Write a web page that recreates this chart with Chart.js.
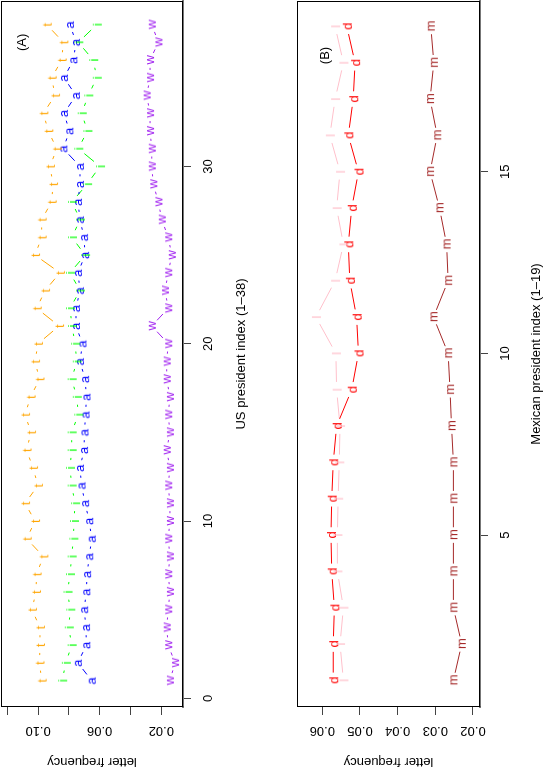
<!DOCTYPE html>
<html>
<head>
<meta charset="utf-8">
<script src="https://cdn.jsdelivr.net/npm/chart.js@4.4.1/dist/chart.umd.min.js"></script>
<style>
  html, body { margin: 0; background: #fff; overflow: hidden; }
  /* the figure is laid out landscape and turned a quarter turn, like the reference */
  #fig { position: absolute; left: 0; top: 0; width: 769px; height: 545px; background: #fff;
         transform-origin: 0 0; transform: translateY(769px) rotate(-90deg); }
  #fig canvas { position: absolute; left: 0; }
</style>
</head>
<body>
<div id="fig">
  <canvas id="chartA" width="769" height="290" style="top:0"></canvas>
  <canvas id="chartB" width="769" height="255" style="top:290px"></canvas>
</div>
<script>
const usIndex = [1,2,3,4,5,6,7,8,9,10,11,12,13,14,15,16,17,18,19,20,21,22,23,24,25,26,27,28,29,30,31,32,33,34,35,36,37,38];
const usT = [0.0977,0.0991,0.0988,0.0988,0.1040,0.1014,0.1010,0.0966,0.1074,0.1020,0.1085,0.1001,0.1033,0.1075,0.1046,0.1085,0.1049,0.0991,0.1020,0.1001,
  0.0864,0.1009,0.0955,0.0858,0.1020,0.0977,0.0977,0.0912,0.0903,0.0923,0.0879,0.0934,0.0966,0.0890,0.0912,0.0847,0.0836,0.0944];
const usA = [0.0652,0.0742,0.0687,0.0689,0.0701,0.0687,0.0682,0.0668,0.0652,0.0668,0.0695,0.0718,0.0728,0.0702,0.0699,0.0692,0.0686,0.0695,0.0728,0.0712,
  0.0754,0.0754,0.0728,0.0741,0.0695,0.0702,0.0728,0.0741,0.0728,0.0728,0.0836,0.0797,0.0832,0.0754,0.0832,0.0771,0.0754,0.0793];
const usI = [0.0844,0.0820,0.0782,0.0801,0.0791,0.0809,0.0793,0.0782,0.0771,0.0767,0.0760,0.0782,0.0793,0.0782,0.0782,0.0739,0.0749,0.0782,0.0749,0.0760,
  0.0780,0.0793,0.0728,0.0793,0.0695,0.0780,0.0728,0.0780,0.0682,0.0598,0.0739,0.0680,0.0717,0.0674,0.0619,0.0642,0.0739,0.0619];
const usW = [0.0144,0.0111,0.0155,0.0165,0.0155,0.0144,0.0155,0.0144,0.0155,0.0144,0.0144,0.0155,0.0144,0.0165,0.0144,0.0155,0.0144,0.0165,0.0165,0.0155,
  0.0262,0.0155,0.0176,0.0155,0.0132,0.0155,0.0197,0.0219,0.0252,0.0262,0.0262,0.0273,0.0273,0.0295,0.0273,0.0273,0.0219,0.0262];

const mxIndex = [1,2,3,4,5,6,7,8,9,10,11,12,13,14,15,16,17,18,19];
const mxD = [0.0571,0.0571,0.0568,0.0575,0.0577,0.0575,0.0571,0.0562,0.0522,0.0504,0.0509,0.0527,0.0531,0.0522,0.0504,0.0531,0.0518,0.0513,0.0535];
const mxL = [0.0544,0.0553,0.0544,0.0560,0.0560,0.0558,0.0555,0.0553,0.0562,0.0564,0.0617,0.0566,0.0544,0.0562,0.0553,0.0580,0.0566,0.0544,0.0566];
const mxM = [0.0252,0.0230,0.0252,0.0252,0.0252,0.0252,0.0252,0.0257,0.0261,0.0266,0.0305,0.0266,0.0270,0.0289,0.0314,0.0295,0.0314,0.0304,0.0312];

const usTicks = [0, 10, 20, 30];
const usFreqTicks = [0.02, 0.04, 0.06, 0.08, 0.10, 0.12];
const usFreqLabels = [0.02, 0.06, 0.10];
const mxTicks = [5, 10, 15];
const mxFreqTicks = [0.02, 0.03, 0.04, 0.05, 0.06];

const FONT = '"Liberation Sans", Arial, Helvetica, sans-serif';

// letter used as plotting symbol, centred on its ink like R does
function glyph(ch, color) {
  const c = document.createElement("canvas");
  c.width = 20;
  c.height = 20;
  const g = c.getContext("2d");
  g.font = `13px ${FONT}`;
  g.fillStyle = color;
  const m = g.measureText(ch);
  const x = 10 - (m.actualBoundingBoxRight - m.actualBoundingBoxLeft) / 2;
  const y = 10 + (m.actualBoundingBoxAscent - m.actualBoundingBoxDescent) / 2;
  g.fillText(ch, x, y);
  return c;
}

function series(ch, color, xs, ys) {
  return {
    label: ch,
    data: xs.map((x, i) => ({ x, y: ys[i] })),
    showLine: false,
    pointStyle: glyph(ch, color),
    lineColor: color,
  };
}

// type="b": lines between points, cut back around each symbol
const gapLines = {
  id: "gapLines",
  beforeDatasetsDraw(chart) {
    const ctx = chart.ctx;
    const gap = 7.8;
    ctx.save();
    ctx.lineWidth = 1;
    chart.data.datasets.forEach((ds, k) => {
      const pts = chart.getDatasetMeta(k).data;
      ctx.strokeStyle = ds.lineColor;
      ctx.beginPath();
      for (let i = 1; i < pts.length; i++) {
        const a = pts[i - 1], b = pts[i];
        const dx = b.x - a.x, dy = b.y - a.y;
        const len = Math.hypot(dx, dy);
        if (len <= 2 * gap) continue;
        const ux = dx / len, uy = dy / len;
        ctx.moveTo(a.x + ux * gap, a.y + uy * gap);
        ctx.lineTo(b.x - ux * gap, b.y - uy * gap);
      }
      ctx.stroke();
    });
    ctx.restore();
  },
  afterDraw(chart, args, opts) {
    const { ctx, chartArea: ca, scales } = chart;
    ctx.save();
    ctx.strokeStyle = "#000";
    ctx.lineWidth = 1;
    ctx.strokeRect(Math.round(ca.left) + 0.5, Math.round(ca.top) + 0.5, Math.round(ca.right - ca.left) - 1, Math.round(ca.bottom - ca.top) - 1);
    ctx.fillStyle = "#000";
    ctx.font = `13px ${FONT}`;
    ctx.textAlign = "center";
    ctx.textBaseline = "middle";
    ctx.fillText(opts.tag, scales.x.getPixelForValue(opts.tagAt[0]), scales.y.getPixelForValue(opts.tagAt[1]));
    ctx.restore();
  },
};

function axes(cfg) {
  const font = { family: FONT, size: 13 };
  return {
    x: {
      type: "linear",
      min: cfg.xMin,
      max: cfg.xMax,
      afterFit: (s) => { s.height = cfg.xHeight; s.paddingLeft = 0; s.paddingRight = 0; },
      afterBuildTicks: (s) => { s.ticks = cfg.xTicks.map((v) => ({ value: v })); },
      grid: { drawOnChartArea: false, tickLength: 8, color: "#444" },
      border: { color: "#777", width: 2 },
      ticks: { autoSkip: false, maxRotation: 0, padding: 10, color: "#000", font, callback: (v) => String(v) },
      title: { display: true, text: cfg.xTitle, color: "#000", font, padding: { top: 0, bottom: cfg.xTitlePad } },
    },
    y: {
      type: "linear",
      min: cfg.yMin,
      max: cfg.yMax,
      afterFit: (s) => { s.width = 62; s.paddingTop = 0; s.paddingBottom = 0; },
      afterBuildTicks: (s) => { s.ticks = cfg.yTicks.map((v) => ({ value: v })); },
      grid: { drawOnChartArea: false, tickLength: 8, color: "#444" },
      border: { color: "#555", width: 1 },
      ticks: {
        autoSkip: false, minRotation: 90, maxRotation: 90, crossAlign: "center", padding: 3, color: "#000", font,
        callback: (v) => (cfg.yLabels.some((l) => Math.abs(l - v) < 1e-9) ? v.toFixed(2) : ""),
      },
      title: { display: true, text: "letter frequency", color: "#000", font: { family: FONT, size: 13, lineHeight: 1 }, padding: { top: 0.5, bottom: 0 } },
    },
  };
}

const common = {
  responsive: false,
  animation: false,
  events: [],
  elements: { point: { radius: 6 } },
  plugins: { legend: { display: false }, tooltip: { enabled: false } },
};

new Chart(document.getElementById("chartA"), {
  type: "scatter",
  data: {
    datasets: [
      series("t", "#FFA500", usIndex, usT),
      series("i", "#00FF00", usIndex, usI),
      series("a", "#0000FF", usIndex, usA),
      series("w", "#A020F0", usIndex, usW),
    ],
  },
  options: {
    ...common,
    layout: { autoPadding: false, padding: { top: 1, right: 1, left: 0, bottom: 0 } },
    scales: axes({
      xMin: -0.49, xMax: 39.33, xHeight: 107, xTicks: usTicks, xTitle: "US president index (1\u201338)", xTitlePad: 40.5,
      yMin: 0.00591, yMax: 0.1241, yTicks: usFreqTicks, yLabels: usFreqLabels,
    }),
    plugins: { ...common.plugins, gapLines: { tag: "(A)", tagAt: [37, 0.11] } },
  },
  plugins: [gapLines],
});

new Chart(document.getElementById("chartB"), {
  type: "scatter",
  data: {
    datasets: [
      series("l", "#FFC0CB", mxIndex, mxL),
      series("d", "#FF0000", mxIndex, mxD),
      series("m", "#A52A2A", mxIndex, mxM),
    ],
  },
  options: {
    ...common,
    layout: { autoPadding: false, padding: { top: 7, right: 1, left: 0, bottom: 0 } },
    scales: axes({
      xMin: 0.267, xMax: 19.7, xHeight: 65, xTicks: mxTicks, xTitle: "Mexican president index (1\u201319)", xTitlePad: 0.5,
      yMin: 0.01814, yMax: 0.06672, yTicks: mxFreqTicks, yLabels: mxFreqTicks,
    }),
    plugins: { ...common.plugins, gapLines: { tag: "(B)", tagAt: [18.2, 0.0593] } },
  },
  plugins: [gapLines],
});
</script>
</body>
</html>
